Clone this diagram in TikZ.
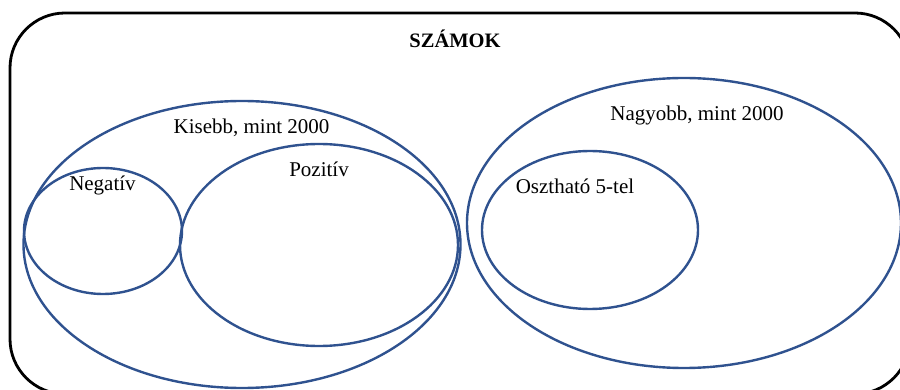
\documentclass[tikz,border=0pt]{standalone}
\usepackage{fontspec}
\setmainfont{Liberation Serif}
\usepackage{tikz}
\usetikzlibrary{shapes.geometric}
\definecolor{setblue}{RGB}{47,82,143}
\tikzset{
    x=1pt,
    y=-1pt,
    frame/.style = {
        draw,
        shape=rectangle,
        rounded corners=55pt,
        line width=2.8pt,
        inner sep=0pt
    },
    set/.style = {
        draw=setblue,
        shape=ellipse,
        line width=2.4pt,
        inner sep=0pt
    },
    label/.style = {
        anchor=base,
        inner sep=0pt,
        font=\fontsize{21}{25}\selectfont
    },
}
\begin{document}
\begin{tikzpicture}
                \path[use as bounding box] (0,0) rectangle (900,390);
                \clip (0,0) rectangle (900,390);

                \node[frame, minimum width=900pt, minimum height=381pt] (szamok) at (460,203.5) {};
                \node[label, font=\fontsize{20.5}{24}\selectfont\bfseries] (title) at (455,47.5) {SZÁMOK};

                \node[set, minimum width=437pt, minimum height=287pt] (kisebb) at (242,244.5) {};
                \node[set, minimum width=158pt, minimum height=126pt] (negativ) at (103,231) {};
                \node[set, minimum width=278pt, minimum height=202pt] (pozitiv) at (319,245) {};
                \node[set, minimum width=434pt, minimum height=290pt] (nagyobb) at (684,223) {};
                \node[set, minimum width=216pt, minimum height=158pt] (oszthato) at (590,230) {};

                \node[label] (kisebbtxt) at (251.5,134) {Kisebb, mint 2000};
                \node[label] (negativtxt) at (102.5,191) {Negatív};
                \node[label] (pozitivtxt) at (319,177) {Pozitív};
                \node[label] (nagyobbtxt) at (697,121) {Nagyobb, mint 2000};
                \node[label] (oszthatotxt) at (575,194) {Osztható 5-tel};
            \end{tikzpicture}
\end{document}
